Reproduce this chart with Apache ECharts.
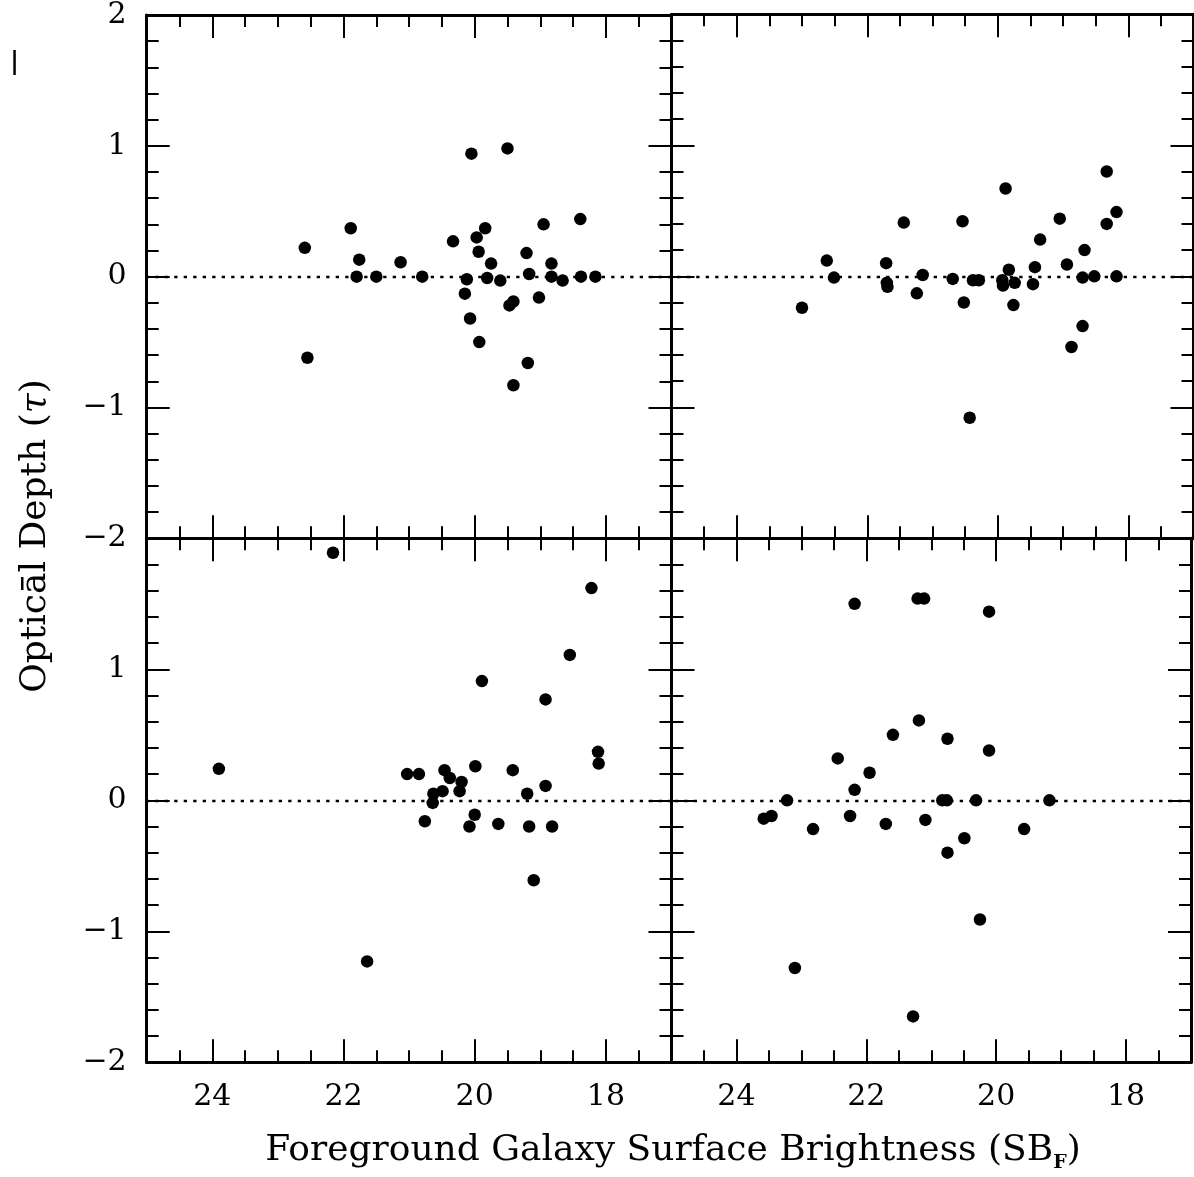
<!DOCTYPE html>
<html><head><meta charset="utf-8">
<script src="https://cdn.jsdelivr.net/npm/echarts@6/dist/echarts.min.js"></script>
<style>html,body{margin:0;padding:0;background:#fff}#c{width:1194px;height:1177px}</style>
</head><body><div id="c"></div>
<script>
// ---- data ----
const xTickLabels = [18, 20, 22, 24];
const yTickLabels = [-2, -1, 0, 1, 2];

const tlX = [20.05,19.50,22.59,22.55,21.89,21.76,21.80,21.50,21.13,20.80,20.33,20.12,20.15,20.07,19.97,19.94,19.84,19.93,19.81,19.75,19.61,19.47,19.41,19.41,19.21,19.17,19.19,19.02,18.95,18.83,18.83,18.66,18.39,18.38,18.16];
const tlY = [0.94,0.98,0.22,-0.62,0.37,0.13,0.00,0.00,0.11,0.00,0.27,-0.02,-0.13,-0.32,0.30,0.19,0.37,-0.50,-0.01,0.10,-0.03,-0.22,-0.19,-0.83,0.18,0.02,-0.66,-0.16,0.40,0.10,0.00,-0.03,0.44,0.00,0.00];

const trX = [23.00,22.62,22.51,21.71,21.70,21.69,21.44,21.24,21.15,20.69,20.54,20.52,20.43,20.38,20.29,19.88,19.83,19.93,19.92,19.74,19.76,19.46,19.43,19.35,19.05,18.94,18.87,18.70,18.70,18.67,18.52,18.33,18.33,18.18,18.18];
const trY = [-0.24,0.12,-0.01,0.10,-0.05,-0.08,0.41,-0.13,0.01,-0.02,0.42,-0.20,-1.08,-0.03,-0.03,0.67,0.05,-0.03,-0.07,-0.05,-0.22,-0.06,0.07,0.28,0.44,0.09,-0.54,-0.38,-0.01,0.20,0.00,0.80,0.40,0.49,0.00];

const blX = [22.16,23.90,21.03,20.85,20.76,20.63,20.64,20.49,20.46,20.38,20.20,20.23,20.08,20.00,19.99,19.89,19.64,19.42,19.20,19.17,19.10,18.92,18.92,18.82,18.55,18.22,18.12,18.11,21.64];
const blY = [1.89,0.24,0.20,0.20,-0.16,0.05,-0.02,0.07,0.23,0.17,0.14,0.07,-0.20,-0.11,0.26,0.91,-0.18,0.23,0.05,-0.20,-0.61,0.77,0.11,-0.20,1.11,1.62,0.37,0.28,-1.23];

const brX = [22.18,21.21,21.11,20.11,21.19,21.59,20.75,20.11,22.44,21.95,22.18,23.22,23.58,23.46,22.82,22.25,21.70,21.09,20.83,20.76,20.31,19.18,20.75,20.49,19.57,20.25,23.10,21.28];
const brY = [1.50,1.54,1.54,1.44,0.61,0.50,0.47,0.38,0.32,0.21,0.08,0.00,-0.14,-0.12,-0.22,-0.12,-0.18,-0.15,0.00,0.00,0.00,0.00,-0.40,-0.29,-0.22,-0.91,-1.28,-1.65];

// ---- chart ----
const FONT = 'DejaVu Serif';
const panels = [
  {x: tlX, y: tlY, grid: {left: 146.7, top: 14.3, width: 524.8, height: 524}, xl: false, yl: true, hideMax: false},
  {x: trX, y: trY, grid: {left: 671.5, top: 14.3, width: 522, height: 524}, xl: false, yl: false, hideMax: false},
  {x: blX, y: blY, grid: {left: 146.7, top: 538.3, width: 524.8, height: 524}, xl: true, yl: true, hideMax: true},
  {x: brX, y: brY, grid: {left: 671.5, top: 538.3, width: 522, height: 524}, xl: true, yl: false, hideMax: true}
];
const fmt = v => (v < 0 ? '\u2212' + (-v) : String(v));
const lineSt = {color: '#000', width: 3};
const tickSt = {color: '#000', width: 2};

const grid = [], xAxis = [], yAxis = [], series = [];
panels.forEach((p, g) => {
  grid.push(Object.assign({containLabel: false}, p.grid));
  const xi = xAxis.length;
  ['bottom', 'top'].forEach(pos => {
    // short ticks every 0.5
    xAxis.push({
      gridIndex: g, type: 'value', position: pos, min: 17, max: 25, inverse: true, interval: 0.5,
      axisLine: {show: true, onZero: false, lineStyle: lineSt},
      axisTick: {show: true, inside: true, length: 12, lineStyle: tickSt},
      axisLabel: {show: pos === 'bottom' && p.xl, margin: 20, fontFamily: FONT, fontSize: 30, color: '#000',
        formatter: v => (xTickLabels.indexOf(v) >= 0 ? String(v) : '')},
      splitLine: {show: false}
    });
    // long ticks at labelled values
    xAxis.push({
      gridIndex: g, type: 'value', position: pos, min: 17, max: 25, inverse: true, interval: 1,
      axisLine: {show: false, onZero: false},
      axisTick: {show: true, inside: true, length: 23, lineStyle: tickSt, customValues: xTickLabels},
      axisLabel: {show: false},
      splitLine: {show: false}
    });
  });
  const yi = yAxis.length;
  ['left', 'right'].forEach(pos => {
    yAxis.push({
      gridIndex: g, type: 'value', position: pos, min: -2, max: 2, interval: 1,
      axisLine: {show: true, onZero: false, lineStyle: lineSt},
      axisTick: {show: true, inside: true, length: 23, lineStyle: tickSt},
      minorTick: {show: true, splitNumber: 5, length: 12, lineStyle: tickSt},
      axisLabel: {show: pos === 'left' && p.yl, margin: 20, fontFamily: FONT, fontSize: 30, color: '#000',
        formatter: fmt, showMaxLabel: !p.hideMax, showMinLabel: true},
      splitLine: {show: false}, minorSplitLine: {show: false}
    });
  });
  series.push({
    type: 'scatter', xAxisIndex: xi, yAxisIndex: yi,
    data: p.x.map((v, i) => [v, p.y[i]]),
    symbol: 'circle', symbolSize: 12.5,
    itemStyle: {color: '#000', opacity: 1},
    silent: true, animation: false,
    markLine: {
      silent: true, animation: false, symbol: ['none', 'none'],
      label: {show: false},
      lineStyle: {color: '#000', width: 2.3, type: [3.3, 6.2], opacity: 1},
      data: [{yAxis: 0}]
    }
  });
});

const chart = echarts.init(document.getElementById('c'), null, {renderer: 'canvas'});
chart.setOption({
  animation: false,
  backgroundColor: '#fff',
  grid, xAxis, yAxis, series,
  graphic: [
    {type: 'text', x: 36, y: 536, rotation: Math.PI / 2,
      style: {text: '{m|Optical Depth (}{t|\u03c4}{m|)}', align: 'center', verticalAlign: 'middle',
        rich: {m: {fontFamily: FONT, fontSize: 36, fill: '#000'}, t: {fontFamily: FONT, fontSize: 36, fontStyle: 'italic', fill: '#000'}}}},
    {type: 'text', x: 673, y: 1151,
      style: {text: '{m|Foreground Galaxy Surface Brightness (SB}{s|F}{m|)}', align: 'center', verticalAlign: 'middle',
        rich: {m: {fontFamily: FONT, fontSize: 36, fill: '#000', verticalAlign: 'top', lineHeight: 37},
               s: {fontFamily: FONT, fontSize: 19, fontWeight: 'bold', fill: '#000', verticalAlign: 'top', lineHeight: 19, padding: [21, 0, 0, 0]}}}},
    {type: 'rect', shape: {x: 13.3, y: 50, width: 2.5, height: 25}, style: {fill: '#000'}},
    {type: 'rect', shape: {x: 21, y: 577, width: 2.5, height: 13}, style: {fill: '#000'}}
  ]
});
</script></body></html>
